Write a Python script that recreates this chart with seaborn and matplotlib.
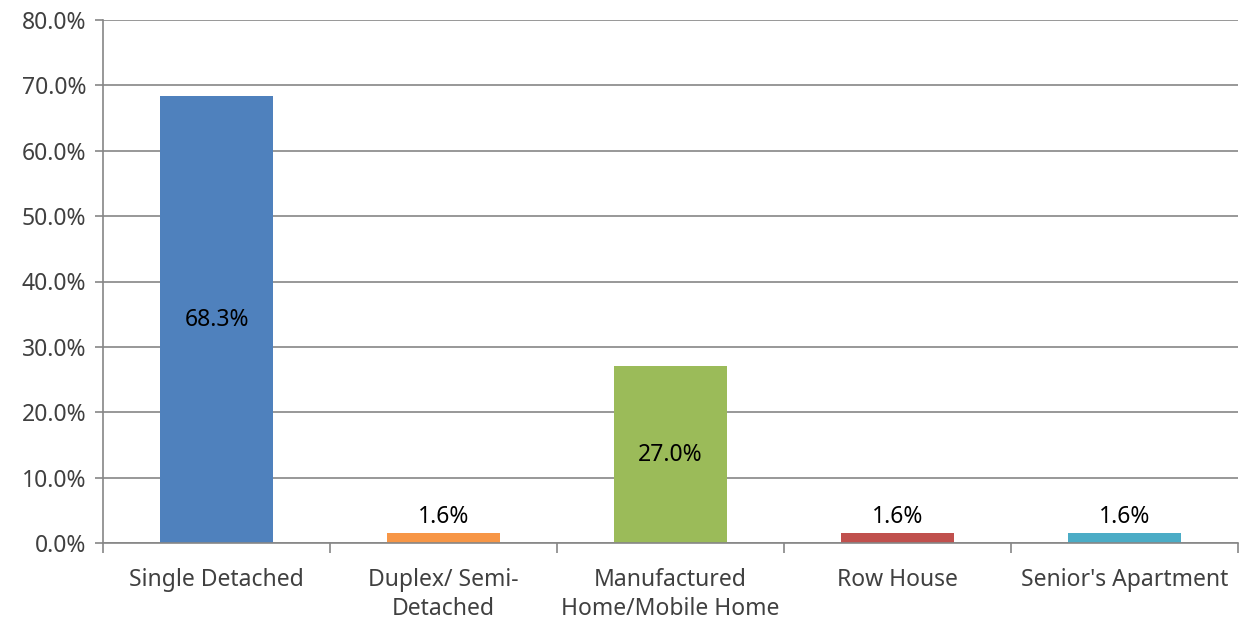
import matplotlib
matplotlib.use("Agg")
import matplotlib.pyplot as plt
import seaborn as sns
import pandas as pd
from matplotlib.ticker import FixedLocator, FuncFormatter

categories = ["Single Detached", "Duplex/ Semi-\nDetached", "Manufactured\nHome/Mobile Home", "Row House", "Senior's Apartment"]
values = [68.3, 1.6, 27.0, 1.6, 1.6]
colors = ["#4F81BD", "#F79646", "#9BBB59", "#C0504D", "#4BACC6"]
yticks = [0, 10, 20, 30, 40, 50, 60, 70, 80]

sns.set_theme(style="white")
plt.rcParams['font.family'] = ['Noto Sans', 'DejaVu Sans']

df = pd.DataFrame({"cat": categories, "val": values})

fig = plt.figure(figsize=(12.39, 6.20), dpi=100)
ax = fig.add_axes([103/1239, 77/620, 1135/1239, 523/620])

sns.barplot(data=df, x="cat", y="val", hue="cat", palette=colors, legend=False,
            width=0.495, ax=ax, saturation=1, linewidth=0)

ax.set_ylim(0, 80)
ax.set_xlim(-0.5, len(categories) - 0.5)
ax.yaxis.set_major_locator(FixedLocator(yticks))
ax.yaxis.set_major_formatter(FuncFormatter(lambda v, p: f"{v:.1f}%"))
ax.grid(axis="y", color="#868686", linewidth=1.2)
ax.set_axisbelow(True)
ax.set_xlabel("")
ax.set_ylabel("")

for s in ["top", "right"]:
    ax.spines[s].set_visible(False)
for s in ["left", "bottom"]:
    ax.spines[s].set_color("#868686")
    ax.spines[s].set_linewidth(1.2)

ax.tick_params(axis="y", which="major", left=True, length=6, width=1.2, color="#868686",
               labelsize=16.5, labelcolor="#404040", pad=6)
ax.tick_params(axis="x", which="major", bottom=False, labelsize=16.5, labelcolor="#404040", pad=12)
for lbl in ax.get_xticklabels():
    lbl.set_linespacing(1.3)
ax.xaxis.set_minor_locator(FixedLocator([i - 0.5 for i in range(len(categories) + 1)]))
ax.tick_params(axis="x", which="minor", bottom=True, length=7, width=1.2, color="#868686")

for i, v in enumerate(values):
    if v > 5:
        ax.text(i, v / 2, f"{v:.1f}%", ha="center", va="center", fontsize=16.5, color="black")
    else:
        ax.text(i, v + 0.6, f"{v:.1f}%", ha="center", va="bottom", fontsize=16.5, color="black")

fig.savefig("out.png", dpi=100)
